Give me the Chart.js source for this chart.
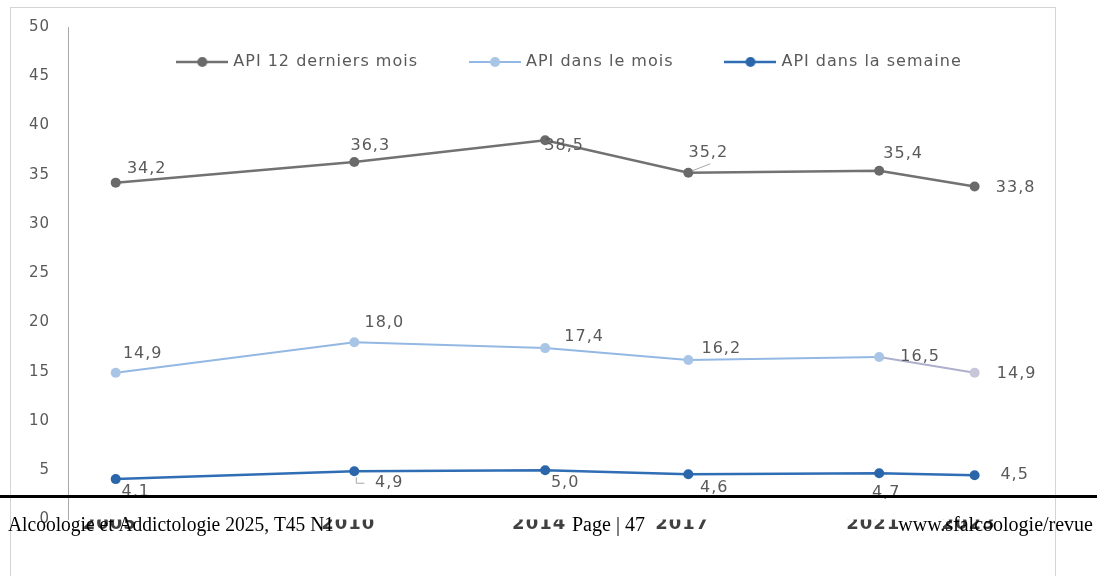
<!DOCTYPE html>
<html><head><meta charset="utf-8">
<script src="https://cdn.jsdelivr.net/npm/chart.js@4.4.1/dist/chart.umd.min.js"></script>
<style>html,body{margin:0;padding:0;background:#fff;overflow:hidden}canvas{display:block}</style>
</head><body>
<canvas id="c" width="1097" height="576"></canvas>
<script>
// ---- data ----
const years = [2005, 2010, 2014, 2017, 2021, 2023];
const api12Mois = [34.2, 36.3, 38.5, 35.2, 35.4, 33.8];
const apiMois = [14.9, 18.0, 17.4, 16.2, 16.5, 14.9];
const apiSemaine = [4.1, 4.9, 5.0, 4.6, 4.7, 4.5];
const seriesNames = ['API 12 derniers mois', 'API dans le mois', 'API dans la semaine'];
const yMin = 0, yMax = 50, yStep = 5;
const footerLeft = 'Alcoologie et Addictologie 2025, T45 N1';
const footerCenter = 'Page | 47';
const footerRight = 'www.sfalcoologie/revue';

// ---- styles ----
const colGray = '#727272', colGrayPt = '#6a6a6a';
const colLight = '#93b8e4', colLightPt = '#a9c5e6', colLightLastPt = '#c6c6d8', colLightLastSeg = '#aeb0cc';
const colDark = '#2f6db5', colDarkPt = '#2b65aa';

function legendIcon(lineColor, dotColor, lw) {
  const cv = document.createElement('canvas');
  cv.width = 52; cv.height = 12;
  const g = cv.getContext('2d');
  g.strokeStyle = lineColor; g.lineWidth = lw;
  g.beginPath(); g.moveTo(0, 6); g.lineTo(52, 6); g.stroke();
  g.fillStyle = dotColor;
  g.beginPath(); g.arc(26, 6, 5, 0, Math.PI * 2); g.fill();
  return cv;
}
const icons = [legendIcon(colGray, colGrayPt, 2.5), legendIcon(colLight, colLightPt, 2), legendIcon(colDark, colDarkPt, 2.5)];

const toPts = arr => years.map((yr, i) => ({x: yr, y: arr[i]}));

const spacingPlugin = {
  id: 'spacing',
  beforeUpdate(c) { c.ctx.letterSpacing = '1px'; },
  afterLayout(c) {
    // legend sits inside the plot frame (as in the original)
    const lg = c.legend;
    if (lg) { lg.left = 44; lg.top = 0; lg.bottom = 90; lg.height = 90; }
  },
  beforeDraw(c) {
    const ctx = c.ctx;
    ctx.letterSpacing = '1px';
    ctx.save();
    ctx.fillStyle = '#fff';
    ctx.fillRect(0, 0, c.width, c.height);
    ctx.strokeStyle = '#d4d4d4';
    ctx.lineWidth = 1;
    ctx.strokeRect(10.5, 7.5, 1045, 620);
    ctx.restore();
  }
};

const labelPlugin = {
  id: 'valueLabels',
  afterDatasetsDraw(c, args, opts) {
    const ctx = c.ctx;
    ctx.save();
    ctx.font = '16px "DejaVu Sans"';
    ctx.fillStyle = '#595959';
    ctx.textAlign = 'center';
    ctx.textBaseline = 'middle';
    c.data.datasets.forEach((ds, di) => {
      const meta = c.getDatasetMeta(di);
      meta.data.forEach((pt, i) => {
        const off = opts.offsets[di][i];
        const v = ds.data[i].y;
        ctx.fillText(v.toFixed(1).replace('.', ','), pt.x + off[0], pt.y + off[1]);
      });
    });
    ctx.strokeStyle = '#a6a6a6';
    ctx.lineWidth = 1;
    opts.leaders.forEach(l => {
      const pt = c.getDatasetMeta(l.ds).data[l.i];
      ctx.beginPath();
      l.path.forEach((p, k) => {
        if (k === 0) ctx.moveTo(pt.x + p[0], pt.y + p[1]); else ctx.lineTo(pt.x + p[0], pt.y + p[1]);
      });
      ctx.stroke();
    });
    ctx.restore();
  }
};

const pagePlugin = {
  id: 'page',
  afterDraw(c) {
    const ctx = c.ctx;
    ctx.save();
    ctx.letterSpacing = '0px';
    ctx.fillStyle = '#000';
    ctx.fillRect(0, 495, c.width, 3);
    ctx.font = '20px "Liberation Serif"';
    ctx.textBaseline = 'alphabetic';
    ctx.textAlign = 'left';
    ctx.fillText(footerLeft, 8, 531, 326);
    ctx.fillText(footerCenter, 572, 531, 78);
    ctx.textAlign = 'right';
    ctx.fillText(footerRight, 1093, 531, 204);
    ctx.restore();
  }
};

new Chart(document.getElementById('c'), {
  type: 'line',
  data: {
    datasets: [
      {label: seriesNames[0], data: toPts(api12Mois), borderColor: colGray, backgroundColor: colGrayPt,
       pointBackgroundColor: colGrayPt, pointBorderColor: colGrayPt, borderWidth: 2.5, pointRadius: 5, pointBorderWidth: 0, tension: 0},
      {label: seriesNames[1], data: toPts(apiMois), borderColor: colLight, backgroundColor: colLightPt,
       pointBackgroundColor: [colLightPt, colLightPt, colLightPt, colLightPt, colLightPt, colLightLastPt],
       pointBorderColor: colLightPt, borderWidth: 2, pointRadius: 5, pointBorderWidth: 0, tension: 0,
       segment: {borderColor: s => s.p1DataIndex === years.length - 1 ? colLightLastSeg : undefined}},
      {label: seriesNames[2], data: toPts(apiSemaine), borderColor: colDark, backgroundColor: colDarkPt,
       pointBackgroundColor: colDarkPt, pointBorderColor: colDarkPt, borderWidth: 2.5, pointRadius: 5, pointBorderWidth: 0, tension: 0}
    ]
  },
  options: {
    responsive: false,
    animation: false,
    devicePixelRatio: 1,
    layout: {padding: {left: 0, right: 0, top: 0, bottom: 0}},
    plugins: {
      tooltip: {enabled: false},
      legend: {
        position: 'top',
        maxHeight: 26.5,
        labels: {
          usePointStyle: true,
          pointStyleWidth: 46,
          padding: 54,
          color: '#595959',
          font: {family: 'DejaVu Sans', size: 16},
          generateLabels: ch => ch.data.datasets.map((ds, i) => ({
            text: ds.label, pointStyle: icons[i], datasetIndex: i, hidden: false,
            lineWidth: 0, strokeStyle: 'rgba(0,0,0,0)', fillStyle: ds.borderColor, fontColor: '#595959'
          }))
        }
      },
      valueLabels: {
        offsets: [
          [[31, -14], [16, -16], [19, 6], [20, -20], [24, -17], [41, 1]],
          [[27, -19], [30, -19], [39, -11], [33, -11], [41, 0], [42, 1]],
          [[20, 13], [35, 12], [20, 13], [26, 14], [7, 20], [40, 0]]
        ],
        leaders: [
          {ds: 0, i: 3, path: [[4, -2], [22, -9]]},
          {ds: 2, i: 1, path: [[2, 6], [2, 12], [10, 12]]}
        ]
      }
    },
    scales: {
      x: {
        type: 'linear', position: 'bottom', min: 2004, max: 2025.46,
        grid: {display: false, drawTicks: false},
        border: {display: false},
        afterBuildTicks: s => { s.ticks = years.map(v => ({value: v})); },
        afterFit: s => { s.height = 56.5; },
        ticks: {
          autoSkip: false, maxRotation: 0, padding: -6, labelOffset: -6,
          color: '#404040', font: {family: 'DejaVu Sans', size: 18, weight: 'bold'},
          callback: v => String(v)
        }
      },
      y: {
        min: yMin, max: yMax,
        grid: {display: false, drawTicks: false},
        border: {display: true, color: '#a8a8a8', width: 1},
        afterFit: s => { s.width = 68; },
        ticks: {stepSize: yStep, padding: 18, color: '#595959', font: {family: 'DejaVu Sans', size: 15}}
      }
    }
  },
  plugins: [spacingPlugin, labelPlugin, pagePlugin]
});
</script>
</body></html>
